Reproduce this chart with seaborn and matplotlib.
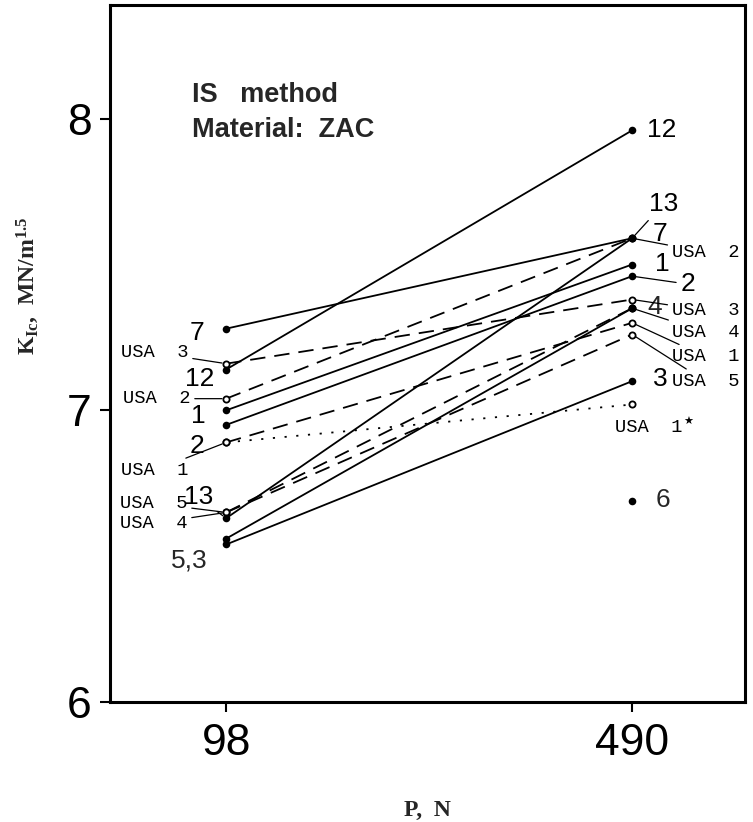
import matplotlib
matplotlib.use("Agg")
import matplotlib.pyplot as plt
import seaborn as sns
import pandas as pd

# ---------------- data ----------------
loads = ["98", "490"]
series = ["7", "12", "1", "2", "13", "5", "3",
          "USA 3", "USA 2", "USA 1", "USA 4", "USA 5", "USA 1*"]
k_98 = [7.28, 7.14, 7.00, 6.95, 6.63, 6.56, 6.54,
        7.16, 7.04, 6.89, 6.65, 6.65, 6.89]
k_490 = [7.59, 7.96, 7.50, 7.46, 7.59, 7.35, 7.10,
         7.38, 7.59, 7.30, 7.35, 7.26, 7.02]
single_series = ["4", "6"]
single_k_490 = [7.35, 6.69]
y_ticks = [6, 7, 8]

# ---------------- style ----------------
sns.set_theme(style="ticks")
plt.rcParams["font.family"] = ["Liberation Sans", "DejaVu Sans"]
plt.rcParams["mathtext.fontset"] = "custom"
plt.rcParams["mathtext.rm"] = "Liberation Serif:bold"
plt.rcParams["mathtext.bf"] = "Liberation Serif:bold"
plt.rcParams["mathtext.it"] = "Liberation Serif:bold"

rows = []
for i, name in enumerate(series):
    for j, vals in enumerate([k_98, k_490]):
        rows.append({"series": name, "pos": j, "K": vals[i]})
df = pd.DataFrame(rows)
df["usa"] = df["series"].str.startswith("USA")
df["dotted"] = df["series"].str.endswith("*")

single_df = pd.DataFrame({"series": single_series,
                          "pos": loads.index("490"),
                          "K": single_k_490})

fig = plt.figure(figsize=(7.53, 8.22), dpi=100)
ax = fig.add_axes([0.1461, 0.146, 0.8433, 0.848])

DASH = (0, (8.5, 5.0))
DOT = (0, (1.2, 5.3))
for name, sub in df.groupby("series", sort=False):
    if name.endswith("*"):
        ls = DOT
    elif name.startswith("USA"):
        ls = DASH
    else:
        ls = "-"
    sns.lineplot(data=sub, x="pos", y="K", color="black", lw=1.3,
                 linestyle=ls, ax=ax, legend=False, zorder=2)

filled = pd.concat([df[~df["usa"]], single_df])
sns.scatterplot(data=filled, x="pos", y="K", color="black", s=30,
                linewidth=0, ax=ax, legend=False, zorder=4)
sns.scatterplot(data=df[df["usa"]], x="pos", y="K", color="white",
                edgecolor="black", s=20, linewidth=1.3, ax=ax,
                legend=False, zorder=3)

# ---------------- labels ----------------
NUM_FONT = dict(fontsize=19, family=["Liberation Sans Narrow", "Liberation Sans", "DejaVu Sans"])
USA_FONT = dict(fontsize=13.5, family=["Liberation Mono", "DejaVu Sans Mono"])
LEADER = dict(arrowstyle="-", color="black", lw=0.9, shrinkA=1, shrinkB=3)

# (series, load index) -> (dx px, dy px, horizontal alignment, leader)
label_layout = {
    ("7", 0): (-29, -4, "center", False),
    ("USA 3", 0): (-38, 11, "right", True),
    ("12", 0): (-26, -9, "center", False),
    ("USA 2", 0): (-36, 0, "right", True),
    ("1", 0): (-28, -6, "center", False),
    ("2", 0): (-29, -21, "center", False),
    ("USA 1", 0): (-38, -28, "right", True),
    ("USA 5", 0): (-39, 9, "right", True),
    ("13", 0): (-28, 21, "center", True),
    ("USA 4", 0): (-39, -11, "right", True),
    ("12", 1): (30, 0, "center", False),
    ("13", 1): (31, 34, "center", True),
    ("7", 1): (28, 4, "center", False),
    ("USA 2", 1): (40, -14, "left", True),
    ("1", 1): (30, 1, "center", False),
    ("2", 1): (56, -8, "center", True),
    ("USA 3", 1): (40, -11, "left", True),
    ("USA 4", 1): (40, -24, "left", True),
    ("USA 1", 1): (40, -34, "left", True),
    ("USA 5", 1): (40, -47, "left", True),
    ("3", 1): (28, 2, "center", False),
    ("USA 1*", 1): (-17, -23, "left", False),
}

lookup = {(r.series, r.pos): r.K for r in df.itertuples()}
for (name, pos), (dx, dy, ha, leader) in label_layout.items():
    y = lookup[(name, pos)]
    is_usa = name.startswith("USA")
    text = name.replace("*", "").replace(" ", "  ") if is_usa else name
    font = USA_FONT if is_usa else NUM_FONT
    ax.annotate(text, xy=(pos, y), xytext=(dx, dy), textcoords="offset pixels",
                ha=ha, va="center", color="black",
                arrowprops=LEADER if leader else None, **font, zorder=5)
    if name.endswith("*"):
        ax.annotate("\u2605", xy=(pos, y), xytext=(dx + 73, dy + 6),
                    textcoords="offset pixels", ha="center", va="center",
                    fontsize=8, family="DejaVu Sans", color="black")

# "5,3" shared label at 98
ax.annotate("5,3", xy=(0, lookup[("5", 0)]), xytext=(-37, -22),
            textcoords="offset pixels", ha="center", va="center", **NUM_FONT)
# single points
for name, y in zip(single_series, single_k_490):
    dx = 23 if name == "4" else 31
    ax.annotate(name, xy=(loads.index("490"), y), xytext=(dx, 1),
                textcoords="offset pixels", ha="center", va="center", **NUM_FONT)

ax.text(0.129, 0.871, "IS   method", transform=ax.transAxes, fontsize=19.5,
        fontweight="bold", ha="left", va="center")
ax.text(0.129, 0.821, "Material:  ZAC", transform=ax.transAxes, fontsize=19.5,
        fontweight="bold", ha="left", va="center")

# ---------------- axes ----------------
ax.set_xlim(-0.286, 1.278)
ax.set_ylim(6, 8.39)
ax.set_xticks(range(len(loads)))
ax.set_xticklabels(loads)
ax.set_yticks(y_ticks)
ax.set_yticklabels([str(t) for t in y_ticks])
ax.tick_params(axis="both", direction="out", length=7, width=1.5,
               labelsize=32, pad=6, colors="black")
ax.tick_params(axis="x", pad=8)
for sp in ax.spines.values():
    sp.set_visible(True)
    sp.set_linewidth(2.2)
    sp.set_color("black")
ax.set_xlabel("")
ax.set_ylabel("")

fig.text(427 / 753, 1 - 810 / 822, "P,  N", ha="center", va="center",
         fontsize=17, fontweight="bold", family="Liberation Serif")
fig.text(28 / 753, 1 - 286 / 822, r"$K_{Ic}$,  MN/m$^{1.5}$", rotation=90,
         ha="center", va="center", fontsize=17, fontweight="bold",
         family="Liberation Serif")

fig.savefig("out.png", dpi=100)
